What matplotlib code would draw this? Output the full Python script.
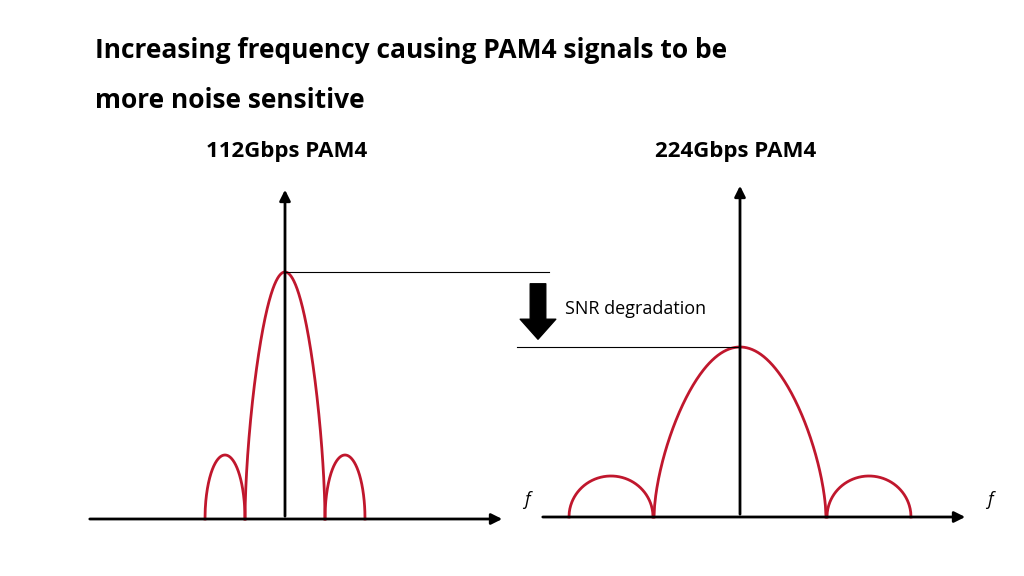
import numpy as np
import matplotlib
matplotlib.use("Agg")
import matplotlib.pyplot as plt

plt.rcParams['font.family'] = ['Open Sans', 'DejaVu Sans']

title_lines = ["Increasing frequency causing PAM4 signals to be", "more noise sensitive"]
panel_titles = ["112Gbps PAM4", "224Gbps PAM4"]
# lobes per panel: (center offset, half width, height) in pixel units
lobes_112 = [(-60, 20, 64), (0, 40, 247), (60, 20, 64)]
lobes_224 = [(-129, 42, 41), (0, 86, 170), (129, 42, 41)]
annotation = "SNR degradation"

fig = plt.figure(figsize=(10.24, 5.76), dpi=100)
ax = fig.add_axes([0, 0, 1, 1])
ax.set_xlim(0, 1024); ax.set_ylim(576, 0); ax.axis('off')

red = '#c0172d'
def panel(cx, base, xl, xr, ytop, lobes, title, tx):
    ax.annotate('', xy=(xr, base), xytext=(xl, base),
                arrowprops=dict(arrowstyle='-|>', color='black', lw=2, mutation_scale=16))
    ax.annotate('', xy=(cx, ytop), xytext=(cx, base),
                arrowprops=dict(arrowstyle='-|>', color='black', lw=2, mutation_scale=16))
    for c, w, h in lobes:
        t = np.linspace(-1, 1, 300)
        if c == 0:
            y = h * np.cos(t * np.pi / 2) ** 0.6
        else:
            y = h * np.sqrt(1 - t ** 2)
        ax.plot(cx + c + t * w, base - y, color=red, lw=2)
    ax.text(tx, 152, title, ha='center', va='center', fontsize=16, fontweight='bold')
    ax.text(xr + 22, 500, 'f', ha='center', va='center', fontsize=13, style='italic')

panel(285, 519, 87, 505, 187, lobes_112, panel_titles[0], 287)
panel(740, 517, 540, 968, 183, lobes_224, panel_titles[1], 736)

ax.plot([285, 549], [272, 272], color='black', lw=0.8)
ax.plot([517, 740], [347, 347], color='black', lw=0.8)
ax.annotate('', xy=(538, 342), xytext=(538, 281),
            arrowprops=dict(arrowstyle='simple,head_width=1.6,head_length=0.9,tail_width=0.7',
                            color='black', mutation_scale=16))
ax.text(565, 309, annotation, ha='left', va='center', fontsize=13)
ax.text(95, 50, title_lines[0], ha='left', va='center', fontsize=19, fontweight='bold')
ax.text(95, 100, title_lines[1], ha='left', va='center', fontsize=19, fontweight='bold')

fig.savefig('out.png', dpi=100)
